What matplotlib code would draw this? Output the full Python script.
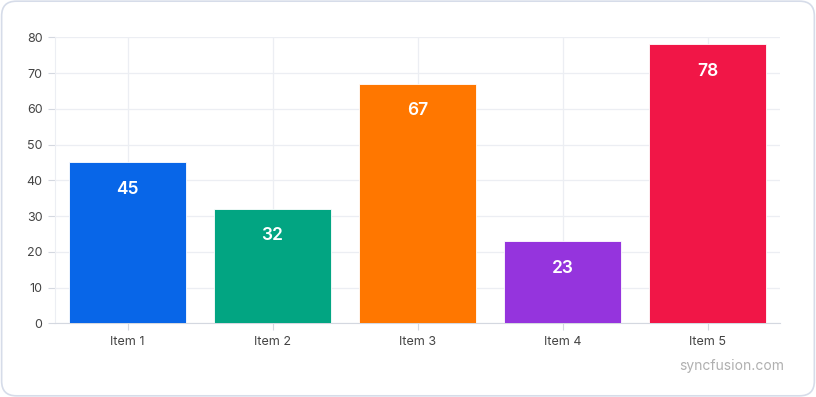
import matplotlib.pyplot as plt
from matplotlib.patches import FancyBboxPatch

# Chart data
categories = ["Item 1", "Item 2", "Item 3", "Item 4", "Item 5"]
values = [45, 32, 67, 23, 78]
colors = ["#0866e8", "#02a582", "#ff7700", "#9534dd", "#f11647"]
y_ticks = [0, 10, 20, 30, 40, 50, 60, 70, 80]

plt.rcParams["font.family"] = ["Inter", "DejaVu Sans"]

fig = plt.figure(figsize=(8.16, 3.97), dpi=100)

# Rounded outer card, kept behind the axes
card = FancyBboxPatch((0.002, 0.003), 0.996, 0.994,
                      boxstyle="round,pad=0,rounding_size=0.018",
                      transform=fig.transFigure, facecolor="white",
                      edgecolor="#d6dce9", linewidth=1.2,
                      mutation_aspect=816 / 397, zorder=-10)
fig.patches.append(card)

ax = fig.add_axes([0.0674, 0.1856, 0.8885, 0.7204])
ax.set_facecolor("none")

x = list(range(len(categories)))
bars = ax.bar(x, values, width=0.807, color=colors, edgecolor="white",
              linewidth=0.6, zorder=3)

# Value labels inside the bars, near the top
for bar, v in zip(bars, values):
    ax.annotate(str(v), (bar.get_x() + bar.get_width() / 2, v),
                xytext=(0, -27), textcoords="offset pixels",
                ha="center", va="center", color="white", fontsize=12.5,
                fontweight="semibold", zorder=4)

ax.set_xlim(-0.5, len(categories) - 0.5)
ax.set_ylim(0, 80)
ax.set_xticks(x)
ax.set_xticklabels(categories)
ax.set_yticks(y_ticks)

ax.grid(True, color="#eceef3", linewidth=0.9, zorder=0)
for side in ["top", "right"]:
    ax.spines[side].set_visible(False)
ax.spines["left"].set_color("#eceef3")
ax.spines["bottom"].set_color("#d4d8e0")
ax.tick_params(axis="x", length=5, color="#d4d8e0", labelsize=9,
               labelcolor="#444444", pad=4)
ax.tick_params(axis="y", length=5, color="#d4d8e0", labelsize=9,
               labelcolor="#444444", pad=4)

fig.text(0.961, 0.078, "syncfusion.com", ha="right", va="center",
         fontsize=10, color="#b0b0b0")

fig.savefig("out.png", dpi=100)
